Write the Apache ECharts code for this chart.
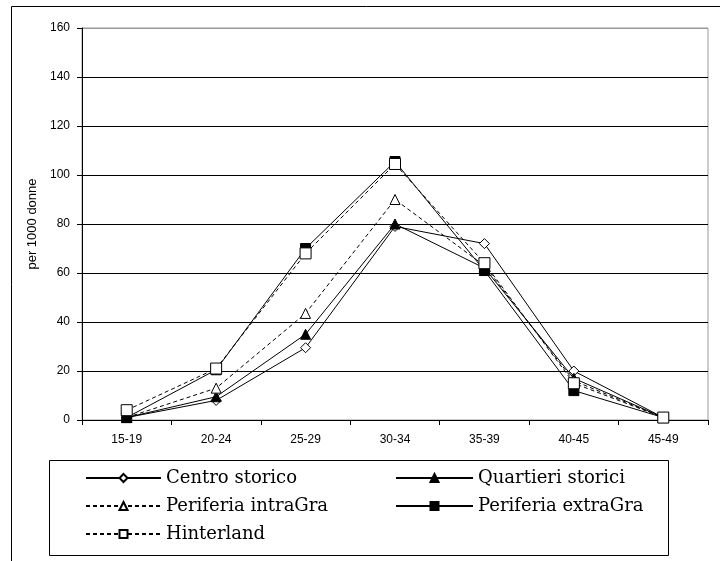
<!DOCTYPE html>
<html><head><meta charset="utf-8">
<script src="https://cdn.jsdelivr.net/npm/echarts@6/dist/echarts.min.js"></script>
<style>html,body{margin:0;padding:0;background:#fff}#c{width:720px;height:561px}</style>
</head><body><div id="c"></div>
<script>
const categories = ['15-19','20-24','25-29','30-34','35-39','40-45','45-49'];
const yTicks = [0,20,40,60,80,100,120,140,160];
const centroStorico = [1, 8, 29.5, 79, 72, 20, 1];
const quartieriStorici = [1, 9.5, 35, 80, 62, 17, 1];
const periferiaIntraGra = [1, 13, 43.5, 90, 63, 16, 1];
const periferiaExtraGra = [1, 20.5, 70, 105.5, 61, 12, 1];
const hinterland = [4, 21, 68, 104.5, 64, 15, 1];

const chart = echarts.init(document.getElementById('c'), null, {renderer:'canvas'});
function mk(name, data, symbol, filled, dashed, size){
  return {
    name, type:'line', data, symbol, symbolSize:size, animation:false,
    lineStyle:{color:'#000', width:1, type: dashed ? [4,3] : 'solid'},
    itemStyle:{color: filled ? '#000' : '#fff', borderColor:'#000', borderWidth:1},
    emphasis:{disabled:true}
  };
}
const legendText = {fontFamily:'DejaVu Serif', fontSize:18, color:'#000'};
chart.setOption({
  backgroundColor:'#fff',
  animation:false,
  grid:{left:82, right:12, top:28, bottom:141, show:true, borderColor:'#999', borderWidth:1},
  xAxis:{type:'category', data:categories, boundaryGap:true,
    axisLine:{lineStyle:{color:'#000', width:1}},
    axisTick:{show:true, length:5, lineStyle:{color:'#000'}},
    axisLabel:{color:'#000', fontFamily:'Liberation Sans', fontSize:12, margin:14}},
  yAxis:{type:'value', min:0, max:160, interval:20,
    name:'per 1000 donne', nameLocation:'middle', nameGap:37,
    nameTextStyle:{color:'#000', fontFamily:'Liberation Sans', fontSize:13},
    axisLine:{show:true, lineStyle:{color:'#000', width:1}},
    axisTick:{show:true, length:5, lineStyle:{color:'#000'}},
    axisLabel:{color:'#000', fontFamily:'Liberation Sans', fontSize:12, margin:12},
    splitLine:{show:true, lineStyle:{color:['#000','#000','#000','#000','#000','#000','#000','#000','#999'], width:1}}},
  legend:[
    {data:['Centro storico','Periferia intraGra','Hinterland'], orient:'vertical', left:80, top:464,
     itemWidth:75, itemHeight:10, itemGap:10, textStyle:legendText, selectedMode:false},
    {data:['Quartieri storici','Periferia extraGra'], orient:'vertical', left:390, top:464,
     itemWidth:77, itemHeight:10, itemGap:10, textStyle:legendText, selectedMode:false}
  ],
  graphic:[
    {type:'rect', shape:{x:11.5, y:6.5, width:760, height:600}, style:{fill:'none', stroke:'#000', lineWidth:1}, silent:true, z:-1},
    {type:'rect', shape:{x:49.5, y:460.5, width:619, height:95}, style:{fill:'none', stroke:'#000', lineWidth:1}, silent:true}
  ],
  series:[
    mk('Centro storico', centroStorico, 'diamond', false, false, 10),
    mk('Quartieri storici', quartieriStorici, 'triangle', true, false, 10),
    mk('Periferia intraGra', periferiaIntraGra, 'triangle', false, true, 10),
    mk('Periferia extraGra', periferiaExtraGra, 'rect', true, false, 10),
    mk('Hinterland', hinterland, 'rect', false, true, 11)
  ]
});
</script></body></html>
